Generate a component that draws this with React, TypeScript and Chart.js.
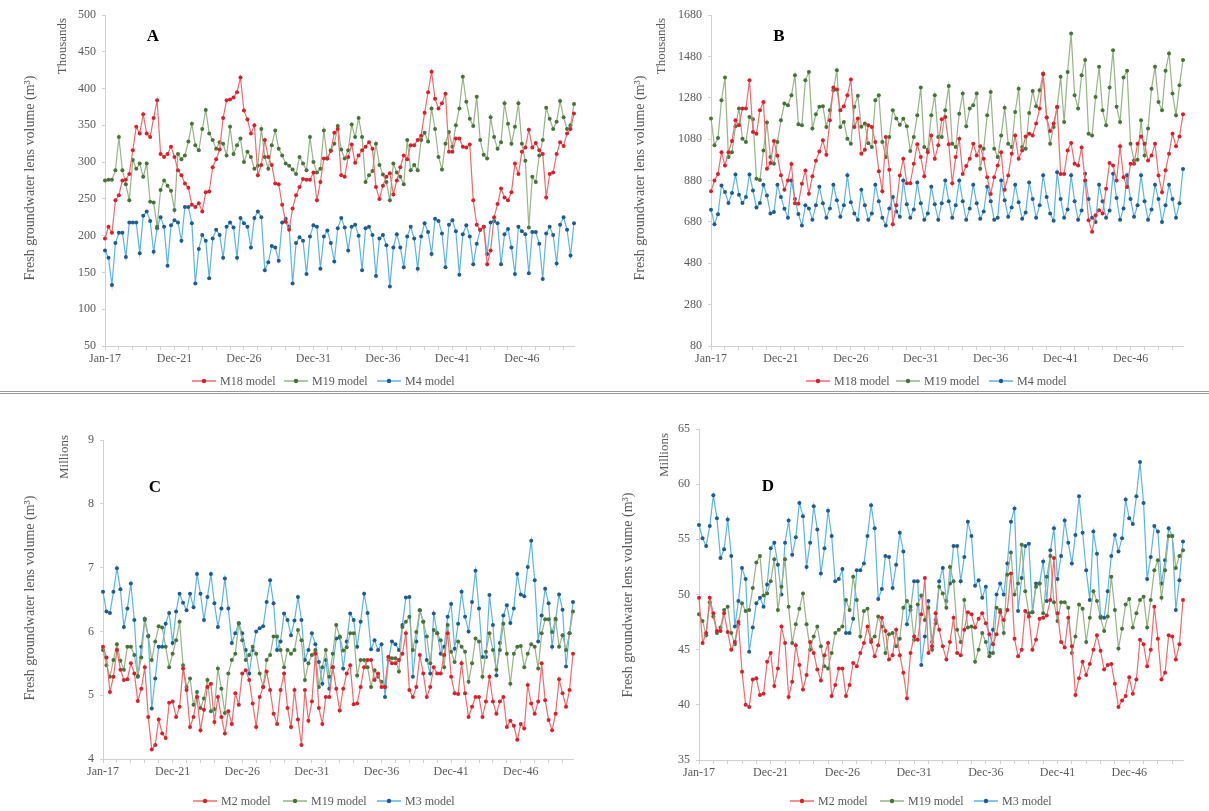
import React, { useEffect, useRef } from 'react';
import { Chart, registerables } from 'chart.js';

Chart.register(...registerables);

// ---- categories (quarterly steps, first entry Jan-17) ----
const QUARTER_MONTHS = ['Mar', 'Jun', 'Sep', 'Dec'];
const FIRST_YEAR = 17;
const POINT_COUNT = 136;
const CATEGORIES: string[] = (() => {
  const out: string[] = ['Jan-17'];
  let yr = FIRST_YEAR;
  while (out.length < POINT_COUNT) {
    for (const m of QUARTER_MONTHS) if (out.length < POINT_COUNT) out.push(`${m}-${yr}`);
    yr += 1;
  }
  return out;
})();
const TICK_LABELS = ['Jan-17', 'Dec-21', 'Dec-26', 'Dec-31', 'Dec-36', 'Dec-41', 'Dec-46'];

// ---- panel A (thousands m3) ----
const A_M18 = [196,212,204,248,255,275,276,284,316,348,339,365,339,334,360,384,311,307,311,321,307,289,282,271,265,242,239,244,233,259,260,293,304,317,360,384,385,388,395,415,370,358,339,350,282,296,330,307,296,271,270,242,219,208,237,255,266,277,276,276,286,248,273,305,305,315,340,345,282,280,307,324,299,309,316,321,327,318,266,250,268,280,285,256,275,293,309,304,323,323,330,336,367,395,423,386,373,380,393,314,314,332,332,321,320,324,248,215,208,212,161,180,225,243,264,252,248,259,298,284,314,320,344,320,326,316,311,252,284,286,311,327,322,339,345,366];
const A_M19 = [275,276,276,289,334,289,270,248,303,291,298,280,298,246,245,212,262,275,268,261,235,311,304,309,328,352,323,316,345,371,339,330,318,327,325,309,348,311,323,332,300,314,307,291,295,345,307,291,323,343,318,309,298,295,290,284,307,298,289,334,300,286,291,343,305,316,325,349,317,305,316,351,334,360,334,273,282,288,325,296,283,273,248,298,286,280,270,330,289,296,289,330,340,328,373,345,307,290,325,341,321,350,373,416,382,359,349,389,330,310,305,361,334,318,327,380,352,325,348,380,325,302,211,280,273,309,330,374,359,345,355,383,361,345,350,379];
const A_M4 = [180,170,133,190,204,204,171,218,218,218,176,227,233,220,178,210,225,212,159,214,221,218,193,239,239,217,135,182,201,193,142,196,208,201,170,212,218,211,170,224,217,212,184,224,233,225,153,164,186,184,166,218,223,212,135,190,198,193,148,199,214,212,155,199,207,190,165,210,224,211,180,212,215,200,153,210,212,201,145,196,201,187,131,184,202,184,157,199,212,196,155,199,217,205,175,223,220,203,157,215,221,206,147,202,214,199,161,189,208,212,175,218,220,217,161,202,209,184,148,212,206,202,149,205,205,189,141,203,212,201,162,215,225,208,173,217];

// ---- panel B (thousands m3) ----
const B_M18 = [828,880,912,1017,953,1017,1071,1171,1147,1228,1228,1365,1114,1106,1220,1260,937,964,1071,1000,905,835,880,960,770,768,864,928,816,900,976,1020,1074,1005,1171,1329,1320,1219,1239,1292,1368,1139,1180,1009,1029,1147,1139,1066,925,828,1090,932,669,760,904,985,867,867,961,1055,993,900,1017,1098,985,1050,1176,1187,1055,867,993,1082,912,950,985,1058,1001,1045,985,896,815,896,953,1017,835,904,1009,1098,985,1025,1093,1106,1098,1155,1228,1394,1184,1119,1155,1236,912,912,1025,1061,961,953,1039,880,688,632,712,736,720,840,964,953,880,1045,896,848,961,961,1058,1093,1058,977,1001,1058,904,823,929,1009,1106,1045,1093,1200];
const B_M19 = [1180,1050,1085,1268,1378,993,1017,1142,1228,1082,1066,1187,1176,888,883,1025,1160,993,961,1066,1171,1252,1244,1292,1389,1152,1147,1365,1405,1131,1200,1236,1239,1139,1220,1316,1413,1139,1163,1082,1058,1236,1290,1140,1155,1060,1042,1268,1292,1066,993,1090,1220,1180,1150,1179,1142,1022,1090,1195,1329,1042,1029,1195,1292,1090,1090,1219,1337,1058,1042,1203,1300,1142,1228,1244,1300,937,1034,1195,1308,1034,993,1098,1232,1058,1042,1211,1324,1042,1034,1206,1313,1239,1316,1397,1184,1058,1139,1232,1381,1163,1405,1591,1292,1228,1389,1462,1106,1098,1284,1430,1219,1147,1329,1510,1236,1163,1378,1410,1058,977,980,1171,1001,1131,1324,1430,1260,1219,1410,1494,1300,1195,1341,1462];
const B_M4 = [739,669,717,856,824,771,819,909,811,771,800,909,832,749,771,860,808,720,728,859,800,744,700,880,790,718,662,760,745,690,760,850,770,700,745,860,785,705,760,905,775,720,690,835,760,690,720,860,780,700,662,745,800,730,705,880,765,700,740,870,770,690,720,850,765,690,770,880,780,700,760,880,780,690,745,860,770,695,730,850,780,690,700,880,785,705,750,860,775,695,725,870,790,700,760,905,800,720,685,920,790,700,740,905,780,690,735,913,790,700,680,860,780,700,735,913,795,690,745,905,790,705,760,905,780,690,740,860,790,680,760,860,790,700,770,935];

// ---- panel C (millions m3) ----
const C_M2 = [5.76,5.59,5.05,5.29,5.71,5.40,5.24,5.25,5.50,5.34,4.91,5.10,5.44,4.66,4.15,4.22,4.62,4.40,4.33,4.88,4.90,4.66,4.82,5.42,5.08,4.50,4.66,4.97,4.45,4.77,5.13,5.18,4.58,4.97,4.66,4.40,4.75,4.55,5.03,4.85,5.34,5.39,5.24,4.87,4.50,4.97,5.13,5.37,5.08,4.71,4.55,5.08,5.34,4.80,4.50,5.08,4.62,4.22,5.08,4.60,4.90,5.65,4.80,4.55,4.97,4.97,5.44,5.10,4.76,5.10,5.34,5.47,4.86,4.87,5.13,5.44,5.55,5.55,5.24,5.34,5.13,5.13,5.60,5.50,5.50,5.55,5.65,5.97,5.08,4.97,5.13,5.63,5.34,4.97,5.13,5.44,5.34,5.34,5.63,5.97,5.29,5.03,5.02,5.50,5.03,4.66,4.82,4.97,4.97,4.66,4.90,5.29,4.90,4.71,4.90,4.97,4.50,4.60,4.52,4.30,4.55,4.48,5.16,4.87,4.71,4.90,5.50,4.92,4.61,4.45,4.71,5.25,5.03,4.82,5.08,5.65];
const C_M19 = [5.71,5.47,5.29,5.55,5.80,5.54,5.40,5.76,5.76,5.63,5.30,5.59,6.18,5.92,5.55,5.84,6.08,6.06,5.76,5.44,5.65,5.86,6.15,5.47,5.13,5.26,4.85,5.05,4.80,4.95,5.24,4.75,4.78,5.42,5.10,4.72,5.34,5.55,5.65,6.12,5.86,5.55,5.63,5.76,5.65,5.34,5.13,5.55,5.63,5.92,5.92,5.71,5.44,5.71,5.65,5.71,6.02,5.86,5.24,5.50,5.63,5.71,5.13,5.44,5.71,5.29,5.65,6.10,5.92,5.70,5.75,5.97,5.97,5.31,5.55,5.55,5.44,5.13,5.39,5.29,5.21,5.13,5.60,5.58,5.58,5.37,6.07,6.15,6.23,5.71,5.99,6.33,6.15,5.92,5.50,6.02,5.97,5.86,5.44,6.10,5.68,5.52,5.84,5.76,5.68,5.21,5.50,5.89,5.84,5.29,5.68,5.97,5.71,5.40,5.71,6.12,5.65,5.18,5.65,5.76,5.77,5.44,5.65,5.80,5.76,5.42,5.97,6.19,6.19,5.99,6.20,5.76,5.94,5.71,5.97,6.31];
const C_M3 = [6.62,6.31,6.29,6.62,6.99,6.66,6.07,6.36,6.75,6.18,5.29,5.76,6.20,5.93,4.79,5.26,5.76,5.76,6.12,6.29,5.82,6.31,6.59,6.45,6.33,6.59,6.38,6.90,6.59,6.18,6.54,6.90,6.44,6.07,6.36,6.83,6.36,5.82,5.97,6.13,5.97,5.71,5.34,5.71,6.00,6.05,6.08,6.46,6.80,6.44,5.71,5.84,6.28,6.18,5.94,6.17,6.54,6.18,5.55,5.71,5.97,5.80,5.52,5.18,5.55,5.10,5.44,5.89,5.90,5.42,5.84,6.28,6.18,5.76,6.15,6.59,6.29,5.72,5.86,5.71,5.80,4.97,5.55,5.84,5.80,5.71,6.10,6.53,6.54,5.29,5.84,6.33,6.15,5.55,5.34,6.28,5.97,5.65,5.76,6.23,6.43,5.73,6.12,6.62,6.23,6.00,6.46,6.95,6.36,5.60,5.60,6.57,6.10,5.31,5.82,6.25,6.41,6.13,6.36,6.90,6.58,6.55,7.01,7.42,6.80,5.84,6.25,6.67,6.44,5.76,6.18,6.58,6.34,5.45,5.97,6.46];

// ---- panel D (millions m3) ----
const D_M2 = [49.7,45.6,46.5,49.7,48.3,46.7,46.7,48.3,46.6,45.0,45.7,47.5,43.0,40.0,39.8,42.3,42.4,40.9,41.0,43.9,44.7,41.7,43.3,47.1,45.6,40.7,42.1,45.4,43.6,41.4,42.7,45.7,44.7,43.2,42.2,44.5,45.6,40.8,41.8,43.3,43.3,40.8,41.8,43.8,43.5,44.7,45.6,47.1,45.7,44.4,45.4,47.9,46.7,44.1,44.5,46.8,44.5,42.9,40.6,44.7,46.2,45.9,48.2,51.5,44.7,45.3,48.3,46.8,45.3,44.1,45.7,47.9,44.7,44.5,46.8,48.4,48.2,47.0,47.8,48.3,47.4,46.4,45.5,46.4,48.4,47.7,48.6,51.9,46.0,44.4,45.0,48.5,48.0,45.0,45.9,47.8,47.9,48.1,49.5,53.3,48.3,45.7,45.2,47.9,45.3,40.9,42.4,43.9,42.7,43.7,45.0,46.3,44.9,43.2,43.6,43.7,41.9,39.8,40.4,40.8,42.5,41.0,42.3,45.9,45.5,43.5,45.0,48.9,46.0,42.3,42.9,46.3,46.2,44.1,45.5,49.5];
const D_M19 = [48.2,47.6,46.3,49.3,48.0,46.5,47.0,48.6,48.9,46.5,45.5,47.3,49.2,48.5,48.6,50.6,52.9,53.5,49.9,50.1,51.2,53.2,48.6,50.7,53.2,48.9,45.6,47.3,48.7,50.1,47.3,45.0,46.2,47.1,45.3,43.5,43.3,44.7,46.5,46.8,47.1,49.5,48.6,51.6,49.5,46.2,48.5,48.7,45.9,46.2,48.0,47.1,44.7,46.4,46.5,45.3,46.0,48.8,49.4,48.9,45.9,49.1,49.9,47.7,48.8,45.0,47.4,50.7,50.1,48.8,52.5,51.2,46.8,45.7,49.5,47.0,47.1,43.9,45.0,46.5,45.7,44.4,44.7,48.8,48.6,46.5,51.8,53.8,50.0,51.0,54.5,50.3,48.3,48.4,50.7,51.0,48.3,51.6,53.5,49.3,47.6,49.3,49.3,48.8,44.7,46.2,49.1,48.7,45.7,47.9,50.3,49.4,47.9,46.7,48.0,51.6,48.6,45.1,46.9,49.1,49.6,47.0,48.3,49.5,49.8,47.0,49.5,52.2,53.1,49.7,52.2,55.3,55.3,52.4,53.5,54.0];
const D_M3 = [56.3,55.1,54.4,56.2,59.0,56.9,53.3,54.1,56.8,53.5,47.1,49.4,52.4,51.4,44.8,47.0,49.2,49.7,48.9,50.9,54.2,54.7,52.7,50.0,54.7,56.7,53.6,55.2,58.3,57.1,52.5,54.7,58.0,55.9,51.9,54.2,57.6,55.3,51.2,51.4,52.3,46.5,46.5,47.8,52.2,52.2,52.8,55.3,58.1,56.0,49.6,50.5,53.5,53.4,50.6,52.7,55.6,53.9,47.3,48.6,51.2,51.2,43.6,46.2,49.4,45.7,47.7,51.2,52.4,49.4,51.0,54.4,54.4,51.2,53.4,56.6,55.3,50.8,51.3,49.7,50.7,44.7,46.8,50.0,51.0,50.0,52.8,56.6,57.8,48.5,51.5,54.4,54.6,48.4,51.0,51.0,53.0,49.4,54.0,56.0,51.4,53.5,56.7,54.7,52.8,55.4,58.9,55.6,52.2,49.5,55.7,53.7,48.0,47.9,50.3,53.5,55.4,53.9,55.1,58.6,56.9,56.4,58.9,62.0,58.3,51.4,53.4,56.2,55.7,51.0,53.1,56.0,55.3,48.6,51.3,54.8];

// ---- styling ----
const RED = { line: '#ef6b6e', marker: '#d8202c' };
const GREEN = { line: '#97b388', marker: '#47733b' };
const BLUE = { line: '#5db5e3', marker: '#1f5b8c' };
const AXIS_GRAY = '#d0d0d0';
const TEXT_GRAY = '#595959';
const SERIF = '"Liberation Serif", "Times New Roman", serif';

type Series = { name: string; data: number[]; color: { line: string; marker: string } };
type Panel = {
  key: string;
  left: number; top: number; width: number; height: number;
  plot: { left: number; right: number; top: number; bottom: number };
  yMin: number; yMax: number; yStep: number;
  letter: string; letterAt: [number, number];
  unit: string; unitAt: [number, number]; unitSize: number;
  titleAt: [number, number];
  legendY: number; legendX: number[];
  series: Series[];
};

const PANELS: Panel[] = [
  {
    key: 'A', left: 0, top: 0, width: 600, height: 391,
    plot: { left: 105, right: 574, top: 15, bottom: 346 },
    yMin: 50, yMax: 500, yStep: 50,
    letter: 'A', letterAt: [153, 37],
    unit: 'Thousands', unitAt: [63, 46], unitSize: 13,
    titleAt: [30, 178],
    legendY: 381, legendX: [192, 284, 377],
    series: [
      { name: 'M18 model', data: A_M18, color: RED },
      { name: 'M19 model', data: A_M19, color: GREEN },
      { name: 'M4 model', data: A_M4, color: BLUE },
    ],
  },
  {
    key: 'B', left: 600, top: 0, width: 609, height: 391,
    plot: { left: 711, right: 1183, top: 15, bottom: 346 },
    yMin: 80, yMax: 1680, yStep: 200,
    letter: 'B', letterAt: [779, 37],
    unit: 'Thousands', unitAt: [662, 46], unitSize: 13,
    titleAt: [640, 178],
    legendY: 381, legendX: [806, 896, 989],
    series: [
      { name: 'M18 model', data: B_M18, color: RED },
      { name: 'M19 model', data: B_M19, color: GREEN },
      { name: 'M4 model', data: B_M4, color: BLUE },
    ],
  },
  {
    key: 'C', left: 0, top: 395, width: 600, height: 416,
    plot: { left: 103, right: 573, top: 440, bottom: 759 },
    yMin: 4, yMax: 9, yStep: 1,
    letter: 'C', letterAt: [155, 488],
    unit: 'Millions', unitAt: [65, 457], unitSize: 13,
    titleAt: [30, 598],
    legendY: 801, legendX: [193, 283, 377],
    series: [
      { name: 'M2 model', data: C_M2, color: RED },
      { name: 'M19 model', data: C_M19, color: GREEN },
      { name: 'M3 model', data: C_M3, color: BLUE },
    ],
  },
  {
    key: 'D', left: 600, top: 395, width: 609, height: 416,
    plot: { left: 699, right: 1183, top: 429, bottom: 760 },
    yMin: 35, yMax: 65, yStep: 5,
    letter: 'D', letterAt: [768, 487],
    unit: 'Millions', unitAt: [665, 455], unitSize: 13,
    titleAt: [628, 595],
    legendY: 801, legendX: [790, 880, 974],
    series: [
      { name: 'M2 model', data: D_M2, color: RED },
      { name: 'M19 model', data: D_M19, color: GREEN },
      { name: 'M3 model', data: D_M3, color: BLUE },
    ],
  },
];

// Panel letter, unit caption, vertical axis title and the legend row.
function decorPlugin(p: Panel) {
  return {
    id: 'panelDecor' + p.key,
    afterDraw(chart: Chart) {
      const ctx = chart.ctx;
      const ox = p.left;
      const oy = p.top;
      ctx.save();

      ctx.fillStyle = '#000000';
      ctx.font = `bold 17px ${SERIF}`;
      ctx.textAlign = 'center';
      ctx.textBaseline = 'middle';
      ctx.fillText(p.letter, p.letterAt[0] - ox, p.letterAt[1] - oy);

      ctx.fillStyle = TEXT_GRAY;
      ctx.save();
      ctx.translate(p.unitAt[0] - ox, p.unitAt[1] - oy);
      ctx.rotate(-Math.PI / 2);
      ctx.font = `${p.unitSize}px ${SERIF}`;
      ctx.fillText(p.unit, 0, 0);
      ctx.restore();

      ctx.save();
      ctx.translate(p.titleAt[0] - ox, p.titleAt[1] - oy);
      ctx.rotate(-Math.PI / 2);
      ctx.font = `14px ${SERIF}`;
      ctx.fillText('Fresh groundwater lens volume (m³)', 0, 0);
      ctx.restore();

      ctx.font = `12px ${SERIF}`;
      ctx.textAlign = 'left';
      p.series.forEach((s, i) => {
        const x = p.legendX[i] - ox;
        const y = p.legendY - oy;
        ctx.strokeStyle = s.color.line;
        ctx.lineWidth = 1.5;
        ctx.beginPath();
        ctx.moveTo(x, y);
        ctx.lineTo(x + 24, y);
        ctx.stroke();
        ctx.fillStyle = s.color.marker;
        ctx.beginPath();
        ctx.arc(x + 12, y, 2.2, 0, Math.PI * 2);
        ctx.fill();
        ctx.fillStyle = TEXT_GRAY;
        ctx.fillText(s.name, x + 28, y + 1);
      });

      ctx.restore();
    },
  };
}

function PanelChart({ panel }: { panel: Panel }) {
  const ref = useRef<HTMLCanvasElement | null>(null);

  useEffect(() => {
    const canvas = ref.current;
    if (!canvas) return;
    const p = panel;
    const chart = new Chart(canvas, {
      type: 'line',
      data: {
        labels: CATEGORIES,
        datasets: p.series.map((s) => ({
          label: s.name,
          data: s.data,
          borderColor: s.color.line,
          backgroundColor: s.color.marker,
          pointBackgroundColor: s.color.marker,
          pointBorderColor: s.color.marker,
          pointRadius: 2,
          pointBorderWidth: 0,
          borderWidth: 1.2,
          tension: 0,
          fill: false,
        })),
      },
      options: {
        animation: false,
        responsive: false,
        maintainAspectRatio: false,
        devicePixelRatio: 1,
        layout: {
          padding: {
            left: 0,
            top: p.plot.top - p.top,
            right: p.left + p.width - p.plot.right,
            bottom: 0,
          },
        },
        plugins: {
          legend: { display: false },
          tooltip: { enabled: false },
          title: { display: false },
        },
        scales: {
          x: {
            type: 'category',
            offset: false,
            border: { color: AXIS_GRAY, width: 1 },
            grid: {
              drawOnChartArea: false,
              drawTicks: true,
              tickLength: 4,
              color: (c: any) => (c.index % 4 === 0 ? AXIS_GRAY : 'rgba(0,0,0,0)'),
            },
            ticks: {
              autoSkip: false,
              maxRotation: 0,
              minRotation: 0,
              padding: 2,
              color: TEXT_GRAY,
              font: { family: SERIF, size: 12 },
              callback: (_v: any, index: number) =>
                TICK_LABELS.includes(CATEGORIES[index]) ? CATEGORIES[index] : '',
            },
            afterFit: (scale: any) => {
              scale.height = p.top + p.height - p.plot.bottom;
            },
          },
          y: {
            min: p.yMin,
            max: p.yMax,
            border: { color: AXIS_GRAY, width: 1 },
            grid: { drawOnChartArea: false, drawTicks: true, tickLength: 3, color: AXIS_GRAY },
            ticks: {
              stepSize: p.yStep,
              padding: 6,
              color: TEXT_GRAY,
              font: { family: SERIF, size: 12 },
              callback: (v: any) => String(v),
            },
            afterFit: (scale: any) => {
              scale.width = p.plot.left - p.left;
            },
          },
        },
      },
      plugins: [decorPlugin(p)],
    });
    return () => chart.destroy();
  }, [panel]);

  return (
    <canvas
      ref={ref}
      width={panel.width}
      height={panel.height}
      style={{
        position: 'absolute',
        left: panel.left,
        top: panel.top,
        width: panel.width,
        height: panel.height,
      }}
    />
  );
}

export default function App() {
  return (
    <div
      style={{
        position: 'absolute',
        left: 0,
        top: 0,
        width: 1209,
        height: 811,
        background: '#ffffff',
        overflow: 'hidden',
      }}
    >
      {PANELS.map((p) => (
        <PanelChart key={p.key} panel={p} />
      ))}
      <div
        style={{
          position: 'absolute',
          left: 0,
          top: 391,
          width: 1209,
          height: 1,
          borderTop: '1px solid #9a9a9a',
          borderBottom: '1px solid #9a9a9a',
        }}
      />
    </div>
  );
}
